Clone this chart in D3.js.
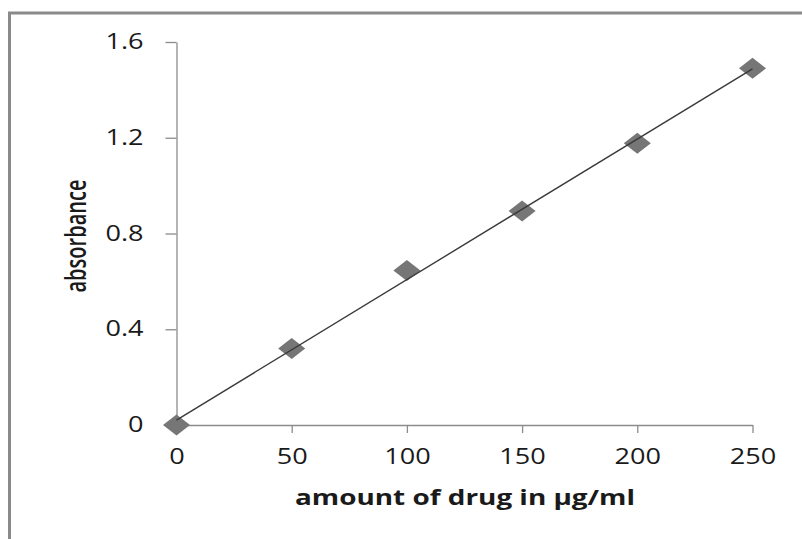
<!DOCTYPE html>
<html>
<head>
<meta charset="utf-8">
<script src="https://cdn.jsdelivr.net/npm/d3@7"></script>
<style>
  body { margin: 0; background: #fff; }
  svg { display: block; }
  .axis path, .axis line { stroke: #8c8c8c; stroke-width: 1.3; }
  .axis text { font-family: "Open Sans", sans-serif; font-size: 21px; fill: #1a1a1a; }
</style>
</head>
<body>
<div class="chart"></div>
<script>
// data
const drugAmount = [0, 50, 100, 150, 200, 250];
const absorbance = [0, 0.32, 0.645, 0.894, 1.177, 1.49];
const xTicks = [0, 50, 100, 150, 200, 250];
const yTicks = [0, 0.4, 0.8, 1.2, 1.6];

const svg_width = 802, svg_height = 539;
const stretch = 1.29; // picture is wider than tall in its glyphs/markers

const svg = d3.select('.chart').append('svg')
  .attr('width', svg_width).attr('height', svg_height);

// outer chart frame (goes past right and bottom edges)
svg.append('rect')
  .attr('x', 9.5).attr('y', 13).attr('width', 900).attr('height', 700)
  .attr('fill', 'none').attr('stroke', '#8a8a8a').attr('stroke-width', 3);

const xScale = d3.scaleLinear().domain([0, 250]).range([176.5, 752.5]);
const yScale = d3.scaleLinear().domain([0, 1.6]).range([425, 42]);

// y axis
const yAxis = d3.axisLeft(yScale).tickValues(yTicks)
  .tickFormat(d => d === 0 ? '0' : d3.format('.1f')(d))
  .tickSizeInner(11).tickSizeOuter(0).tickPadding(22);
svg.append('g').attr('class', 'axis')
  .attr('transform', `translate(${xScale(0)},0)`)
  .call(yAxis);

// x axis
const xAxis = d3.axisBottom(xScale).tickValues(xTicks)
  .tickSizeInner(8).tickSizeOuter(0).tickPadding(16);
svg.append('g').attr('class', 'axis')
  .attr('transform', `translate(0,${yScale(0)})`)
  .call(xAxis);

// widen tick labels like the picture
svg.selectAll('.axis text').each(function () {
  const w = this.getComputedTextLength();
  d3.select(this).attr('textLength', w * stretch).attr('lengthAdjust', 'spacingAndGlyphs');
});

// markers (drawn under trend line)
const pts = drugAmount.map((x, i) => ({ x: x, y: absorbance[i] }));
svg.selectAll('.scatter').data(pts).enter()
  .append('path').attr('class', 'scatter')
  .attr('d', d3.symbol(d3.symbolSquare, 220)())
  .attr('transform', d => `translate(${xScale(d.x)},${yScale(d.y)}) scale(${stretch},1) rotate(45)`)
  .attr('fill', '#767676');

// linear trendline (least squares)
const mx = d3.mean(pts, d => d.x), my = d3.mean(pts, d => d.y);
const slope = d3.sum(pts, d => (d.x - mx) * (d.y - my)) / d3.sum(pts, d => (d.x - mx) ** 2);
const intercept = my - slope * mx;
const trend = [0, 250].map(x => ({ x: x, y: intercept + slope * x }));
svg.append('path').datum(trend)
  .attr('d', d3.line().x(d => xScale(d.x)).y(d => yScale(d.y)))
  .attr('stroke', '#3a3a3a').attr('stroke-width', 1.4).attr('fill', 'none');

// axis titles
svg.append('text')
  .attr('x', 465).attr('y', 505)
  .attr('text-anchor', 'middle')
  .attr('font-family', '"Open Sans", sans-serif').attr('font-weight', 'bold')
  .attr('font-size', 22).attr('fill', '#1a1a1a')
  .attr('textLength', 340).attr('lengthAdjust', 'spacingAndGlyphs')
  .text('amount of drug in µg/ml');

svg.append('text')
  .attr('transform', `translate(86,236) rotate(-90) scale(1,${stretch})`)
  .attr('text-anchor', 'middle')
  .attr('font-family', '"Open Sans", sans-serif').attr('font-weight', 600)
  .attr('font-size', 23).attr('fill', '#1a1a1a')
  .attr('textLength', 113).attr('lengthAdjust', 'spacingAndGlyphs')
  .text('absorbance');
</script>
</body>
</html>
